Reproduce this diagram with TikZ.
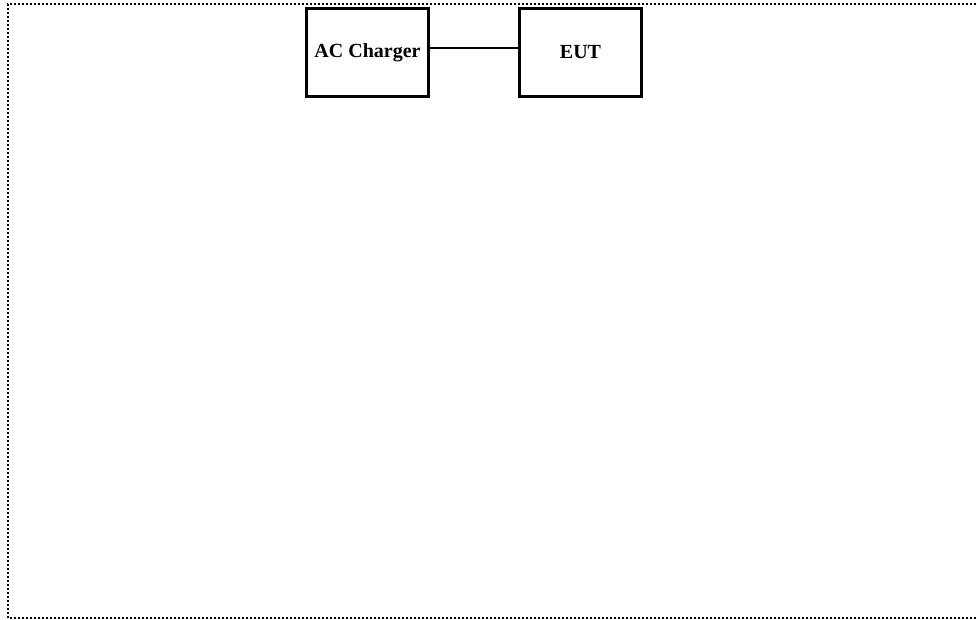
\documentclass[tikz,border=0pt]{standalone}
\usepackage{fontspec}
\setmainfont{Liberation Serif}
\usetikzlibrary{positioning}
\tikzset {
  % equipment boxes
  unit/.style = {draw, line width=2.2pt, minimum width=122pt, minimum height=88pt,
    inner sep=0pt, font=\fontsize{20}{24}\selectfont\bfseries},
  % cable between units
  cable/.style = {line width=2pt},
  % outline of the test set-up area
  frame/.style = {line width=2pt, dash pattern=on 2pt off 2pt},
}
\begin{document}
\begin{tikzpicture}[x=1pt, y=1pt]
      \useasboundingbox (0, 0) rectangle (976, 620);

      \coordinate (tr) at (976, 616);
      \coordinate (tl) at (8, 616);
      \coordinate (bl) at (8, 2);
      \coordinate (br) at (976, 2);
      \draw [frame] (tr) -- (tl) -- (bl) -- (br);

      \node[unit] (charger) at (367.5, 567.5) {AC Charger};
      \node[unit] (eut) at (580.5, 567.5) {EUT};

      \draw [cable] ([yshift=4pt]charger.east) -- ([yshift=4pt]eut.west);
\end{tikzpicture}
\end{document}
